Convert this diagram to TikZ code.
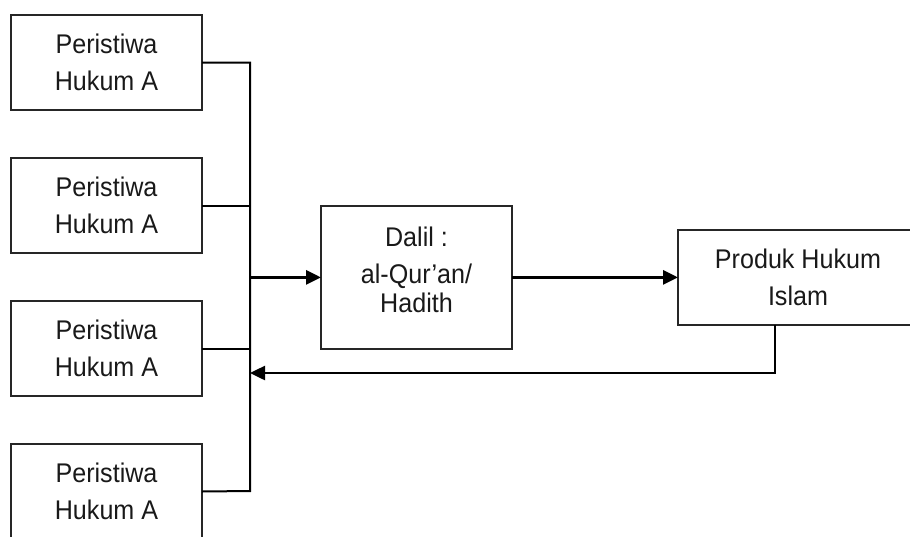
\documentclass[tikz,border=0pt]{standalone}
\usepackage{fontspec}
\setmainfont{Liberation Sans}[FakeStretch=0.93]
\usetikzlibrary{positioning,arrows.meta}

\begin{document}
\begin{tikzpicture}[x=1pt, y=-1pt, node distance=48pt, every node/.style={draw=black!85, rectangle, line width=1.5pt, outer sep=0pt, align=center, text=black!90, font=\fontsize{27}{37}\selectfont}]
    \clip (0,0) rectangle (910,536);

    % left column of events
    \node (EventA) [minimum width=191pt, minimum height=95pt] at (106.5,62.5) {Peristiwa\\Hukum A};
    \node (EventB) [below=of EventA, minimum width=191pt, minimum height=95pt] {Peristiwa\\Hukum A};
    \node (EventC) [below=of EventB, minimum width=191pt, minimum height=95pt] {Peristiwa\\Hukum A};
    \node (EventD) [below=of EventC, minimum width=191pt, minimum height=95pt] {Peristiwa\\Hukum A};

    \node (Dalil) [minimum width=191pt, minimum height=143pt, text depth=16pt] at (416.5,277.4) {Dalil :\\al-Qur’an/\\[-8pt]Hadith};
    \node (Produk) [right=166pt of Dalil, minimum width=240pt, minimum height=95pt] {Produk Hukum\\Islam};

    \coordinate (Bus) at (250,277.4);
    \coordinate (BusTop) at (250,62.5);
    \coordinate (BusBottom) at (250,491);
    \coordinate (Back) at (775,373);
    \coordinate (BackIn) at (250,373);

    \draw[line width=2pt] (EventA.east) -- (BusTop) -- (BusBottom) -- (EventD.east);
    \draw[line width=2pt] (EventB.east) -- (EventB.east -| Bus);
    \draw[line width=2pt] (EventC.east) -- (EventC.east -| Bus);

    \draw[line width=3pt, -{Triangle[length=15pt, width=14pt]}] (Bus) -- (Dalil);
    \draw[line width=3pt, -{Triangle[length=15pt, width=14pt]}] (Dalil) -- (Produk);
    \draw[line width=2.5pt, -{Triangle[length=15pt, width=14pt]}] (Produk.south -| Back) -- (Back) -- (BackIn);
\end{tikzpicture}
\end{document}
